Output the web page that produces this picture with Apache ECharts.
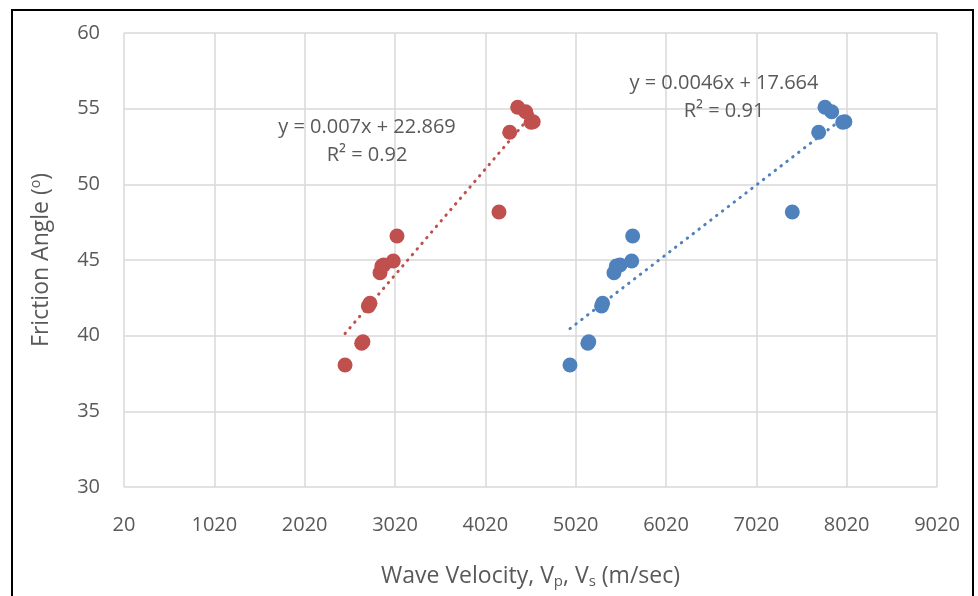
<!DOCTYPE html>
<html>
<head>
<meta charset="utf-8">
<script src="https://cdn.jsdelivr.net/npm/echarts@6/dist/echarts.min.js"></script>
<style>
  html, body { margin: 0; padding: 0; background: #fff; }
  #chart { width: 978px; height: 596px; }
</style>
</head>
<body>
<div id="chart"></div>
<script>
// Friction angle (degrees) of each sample
const frictionAngle = [38.06, 39.5, 39.6, 41.96, 42.14, 44.16, 44.6, 44.67, 44.93, 46.59, 48.17, 53.44, 54.1, 54.14, 54.8, 55.09];
// Shear wave velocity Vs (m/sec)
const vsValues = [2467, 2651, 2665, 2725, 2743, 2854, 2875, 2895, 3001, 3042, 4171, 4290, 4526, 4550, 4467, 4378];
// Compressional wave velocity Vp (m/sec)
const vpValues = [4957, 5155, 5165, 5307, 5318, 5444, 5470, 5511, 5640, 5651, 7418, 7710, 7976, 8000, 7854, 7780];

// Linear trend fits shown on the chart
const vsFit = { slope: 0.007, intercept: 22.869, r2: '0.92' };
const vpFit = { slope: 0.0046, intercept: 17.664, r2: '0.91' };

// Axis tick values
const xTicks = [20, 1020, 2020, 3020, 4020, 5020, 6020, 7020, 8020, 9020];
const yTicks = [30, 35, 40, 45, 50, 55, 60];

const RED = '#C0504D';
const BLUE = '#4F81BD';
const TEXT = '#595959';
const GRID = '#d9d9d9';
const FONT = '"Open Sans", "Liberation Sans", sans-serif';

const pairs = (xs, ys) => xs.map((x, i) => [x, ys[i]]);
function fitLine(xs, fit) {
  const lo = Math.min(...xs), hi = Math.max(...xs);
  return [[lo, fit.slope * lo + fit.intercept], [hi, fit.slope * hi + fit.intercept]];
}
const fmt = (fit) => 'y = ' + fit.slope + 'x + ' + fit.intercept + '\nR² = ' + fit.r2;

const chart = echarts.init(document.getElementById('chart'));

const dotted = (color) => ({ color: color, width: 3, type: [0.5, 6.9], cap: 'round' });

chart.setOption({
  animation: false,
  backgroundColor: '#fff',
  textStyle: { fontFamily: FONT },
  grid: { left: 124, right: 41, top: 33, bottom: 109, outerBoundsMode: 'none', containLabel: false },
  xAxis: {
    type: 'value',
    min: xTicks[0],
    max: xTicks[xTicks.length - 1],
    axisLine: { show: false },
    axisTick: { show: false, customValues: xTicks },
    axisLabel: {
      customValues: xTicks, color: TEXT, fontSize: 20, fontFamily: FONT, margin: 28,
      formatter: (v) => String(v)
    },
    splitLine: { show: true, lineStyle: { color: GRID, width: 1.5 } },
    name: 'Wave Velocity, V{sub|p}, V{sub|s} (m/sec)',
    nameLocation: 'middle',
    nameGap: 76,
    nameTextStyle: {
      color: TEXT, fontSize: 23, fontFamily: FONT,
      rich: { sub: { fontSize: 15, color: TEXT, fontFamily: FONT, padding: [11, 0, 0, 0] } }
    }
  },
  yAxis: {
    type: 'value',
    min: yTicks[0],
    max: yTicks[yTicks.length - 1],
    interval: 5,
    axisLine: { show: false },
    axisTick: { show: false },
    axisLabel: { color: TEXT, fontSize: 20, fontFamily: FONT, margin: 24 },
    splitLine: { show: true, lineStyle: { color: GRID, width: 1.5 } },
    name: 'Friction Angle ({sup|o})',
    nameLocation: 'middle',
    nameGap: 70,
    nameTextStyle: {
      color: TEXT, fontSize: 23, fontFamily: FONT,
      rich: { sup: { fontSize: 14, color: TEXT, fontFamily: FONT, padding: [0, 0, 11, 0] } }
    }
  },
  series: [
    {
      name: 'Vs trend', type: 'line', data: fitLine(vsValues, vsFit),
      symbol: 'none', lineStyle: dotted(RED), z: 1, silent: true
    },
    {
      name: 'Vp trend', type: 'line', data: fitLine(vpValues, vpFit),
      symbol: 'none', lineStyle: dotted(BLUE), z: 1, silent: true
    },
    {
      name: 'Vs', type: 'scatter', data: pairs(vsValues, frictionAngle),
      symbolSize: 15, itemStyle: { color: RED, opacity: 1 }, z: 2
    },
    {
      name: 'Vp', type: 'scatter', data: pairs(vpValues, frictionAngle),
      symbolSize: 15, itemStyle: { color: BLUE, opacity: 1 }, z: 2
    }
  ]
});

// Trend equations, anchored in data space
const vsLabelAt = chart.convertToPixel({ gridIndex: 0 }, [2710, 52.86]);
const vpLabelAt = chart.convertToPixel({ gridIndex: 0 }, [6662, 55.74]);
const eqStyle = (text) => ({
  text: text, fill: TEXT, font: '20px ' + FONT, align: 'center', verticalAlign: 'middle', lineHeight: 28
});

chart.setOption({
  graphic: [
    { type: 'text', x: vsLabelAt[0], y: vsLabelAt[1], style: eqStyle(fmt(vsFit)), z: 10 },
    { type: 'text', x: vpLabelAt[0], y: vpLabelAt[1], style: eqStyle(fmt(vpFit)), z: 10 },
    {
      type: 'rect', shape: { x: 12, y: 10, width: 961, height: 600 },
      style: { fill: 'none', stroke: '#000', lineWidth: 2 }, z: 20, silent: true
    }
  ]
});
</script>
</body>
</html>
